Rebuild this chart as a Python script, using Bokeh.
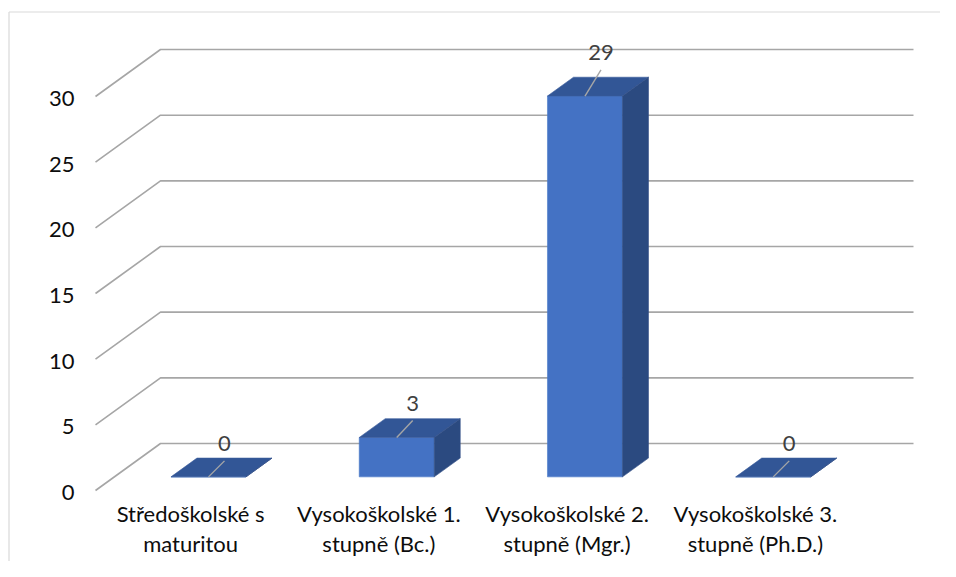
from bokeh.plotting import figure
from bokeh.models import Range1d, ColumnDataSource
from bokeh.embed import file_html
from bokeh.resources import INLINE
from bokeh.core.properties import value

# ---- data ----
categories = ["Středoškolské s\nmaturitou",
              "Vysokoškolské 1.\nstupně (Bc.)",
              "Vysokoškolské 2.\nstupně (Mgr.)",
              "Vysokoškolské 3.\nstupně (Ph.D.)"]
counts = [0, 3, 29, 0]
y_ticks = [0, 5, 10, 15, 20, 25, 30]

# ---- geometry / style constants (pixels -> data units) ----
W, H = 940, 561
X0_PX, Y0_PX = 95.0, 490.0   # screen position of the front-left floor corner
PX_X = 188.25                # px per category slot
PX_Y = 13.133                # px per value unit
DX = 65.0 / PX_X             # depth offset of back wall (data units)
DY = 47.0 / PX_Y
WALL_END = (913.0 - X0_PX) / PX_X
HW = 37.5 / PX_X             # half bar width
D0, D1 = 0.29, 0.69          # bar front/back depth fractions
FONT = "Lato"
FS = "22px"

def dx(px):
    return px / PX_X

def dy(px):
    return px / PX_Y

x_start, x_end = dx(-X0_PX), dx(W - X0_PX)
y_start, y_end = dy(Y0_PX - H), dy(Y0_PX)

p = figure(width=W, height=H, output_backend="svg", toolbar_location=None,
           x_range=Range1d(x_start, x_end), y_range=Range1d(y_start, y_end),
           x_axis_location=None, y_axis_location=None,
           min_border_left=0, min_border_right=0, min_border_top=0,
           min_border_bottom=0)
p.outline_line_color = None
p.xgrid.visible = False
p.ygrid.visible = False
p.background_fill_color = "white"
p.border_fill_color = "white"

# chart area border (left and top edges visible in the view)
bx = dx(8.5 - X0_PX)
by = dy(Y0_PX - 11.5)
p.multi_line(xs=[[bx, bx], [bx, x_end]], ys=[[y_start, by], [by, by]],
             line_color="#D9D9D9", line_width=1.2)

# back wall gridlines with floor/side diagonals
gx, gy = [], []
for t in y_ticks:
    gx.append([0, DX, WALL_END])
    gy.append([t, t + DY, t + DY])
p.multi_line(xs=gx, ys=gy, line_color="#A6A6A6", line_width=1.6)

# 3D bars
fx, fy, tx, ty, sx, sy = [], [], [], [], [], []
lead_x, lead_y, lab_x, lab_y = [], [], [], []
for i, v in enumerate(counts):
    xl = i + 0.5 - HW
    xr = i + 0.5 + HW
    x0l, x0r = xl + D0 * DX, xr + D0 * DX
    x1l, x1r = xl + D1 * DX, xr + D1 * DX
    b0, b1 = D0 * DY, D1 * DY
    fx.append([x0l, x0r, x0r, x0l]); fy.append([b0, b0, v + b0, v + b0])
    tx.append([x0l, x0r, x1r, x1l]); ty.append([v + b0, v + b0, v + b1, v + b1])
    sx.append([x0r, x1r, x1r, x0r]); sy.append([b0, b1, v + b1, v + b0])
    cx, cy = i + 0.5 + D0 * DX, v + b0
    lx = cx + dx(16.0)
    ly = cy + dy(33.0) + 0.35 * v * dy(1.0)
    lead_x.append([cx, lx]); lead_y.append([cy, ly - dy(17.0)])
    lab_x.append(lx); lab_y.append(ly)

p.patches(xs=fx, ys=fy, fill_color="#4472C4", line_color="#4A78C8", line_width=0.6)
p.patches(xs=tx, ys=ty, fill_color="#325696", line_color="#3A5D9C", line_width=0.6)
p.patches(xs=sx, ys=sy, fill_color="#2B4A80", line_color="#334F86", line_width=0.6)
p.multi_line(xs=lead_x, ys=lead_y, line_color="#A6A6A6", line_width=1.4)

# data labels
src = ColumnDataSource(dict(x=lab_x, y=lab_y, t=[str(v) for v in counts]))
p.text(x="x", y="y", text="t", source=src, text_align="center",
       text_baseline="middle", text_font=value(FONT), text_font_size=FS,
       text_color="#404040")

# value axis tick labels (front edge of the floor / wall)
ysrc = ColumnDataSource(dict(x=[dx(74.0 - X0_PX)] * len(y_ticks),
                             y=[t - dy(2.0) for t in y_ticks],
                             t=[str(t) for t in y_ticks]))
p.text(x="x", y="y", text="t", source=ysrc, text_align="right",
       text_baseline="middle", text_font=value(FONT), text_font_size=FS,
       text_color="#0D0D0D")

# category axis labels (centred under each slot on the front edge)
csrc = ColumnDataSource(dict(x=[i + 0.5 + dx(1.0) for i in range(len(categories))],
                             y=[dy(Y0_PX - 528.0)] * len(categories),
                             t=categories))
p.text(x="x", y="y", text="t", source=csrc, text_align="center",
       text_baseline="middle", text_font=value(FONT), text_font_size=FS,
       text_line_height=1.14, text_color="#0D0D0D")

open("out.html", "w").write(file_html(p, INLINE))
